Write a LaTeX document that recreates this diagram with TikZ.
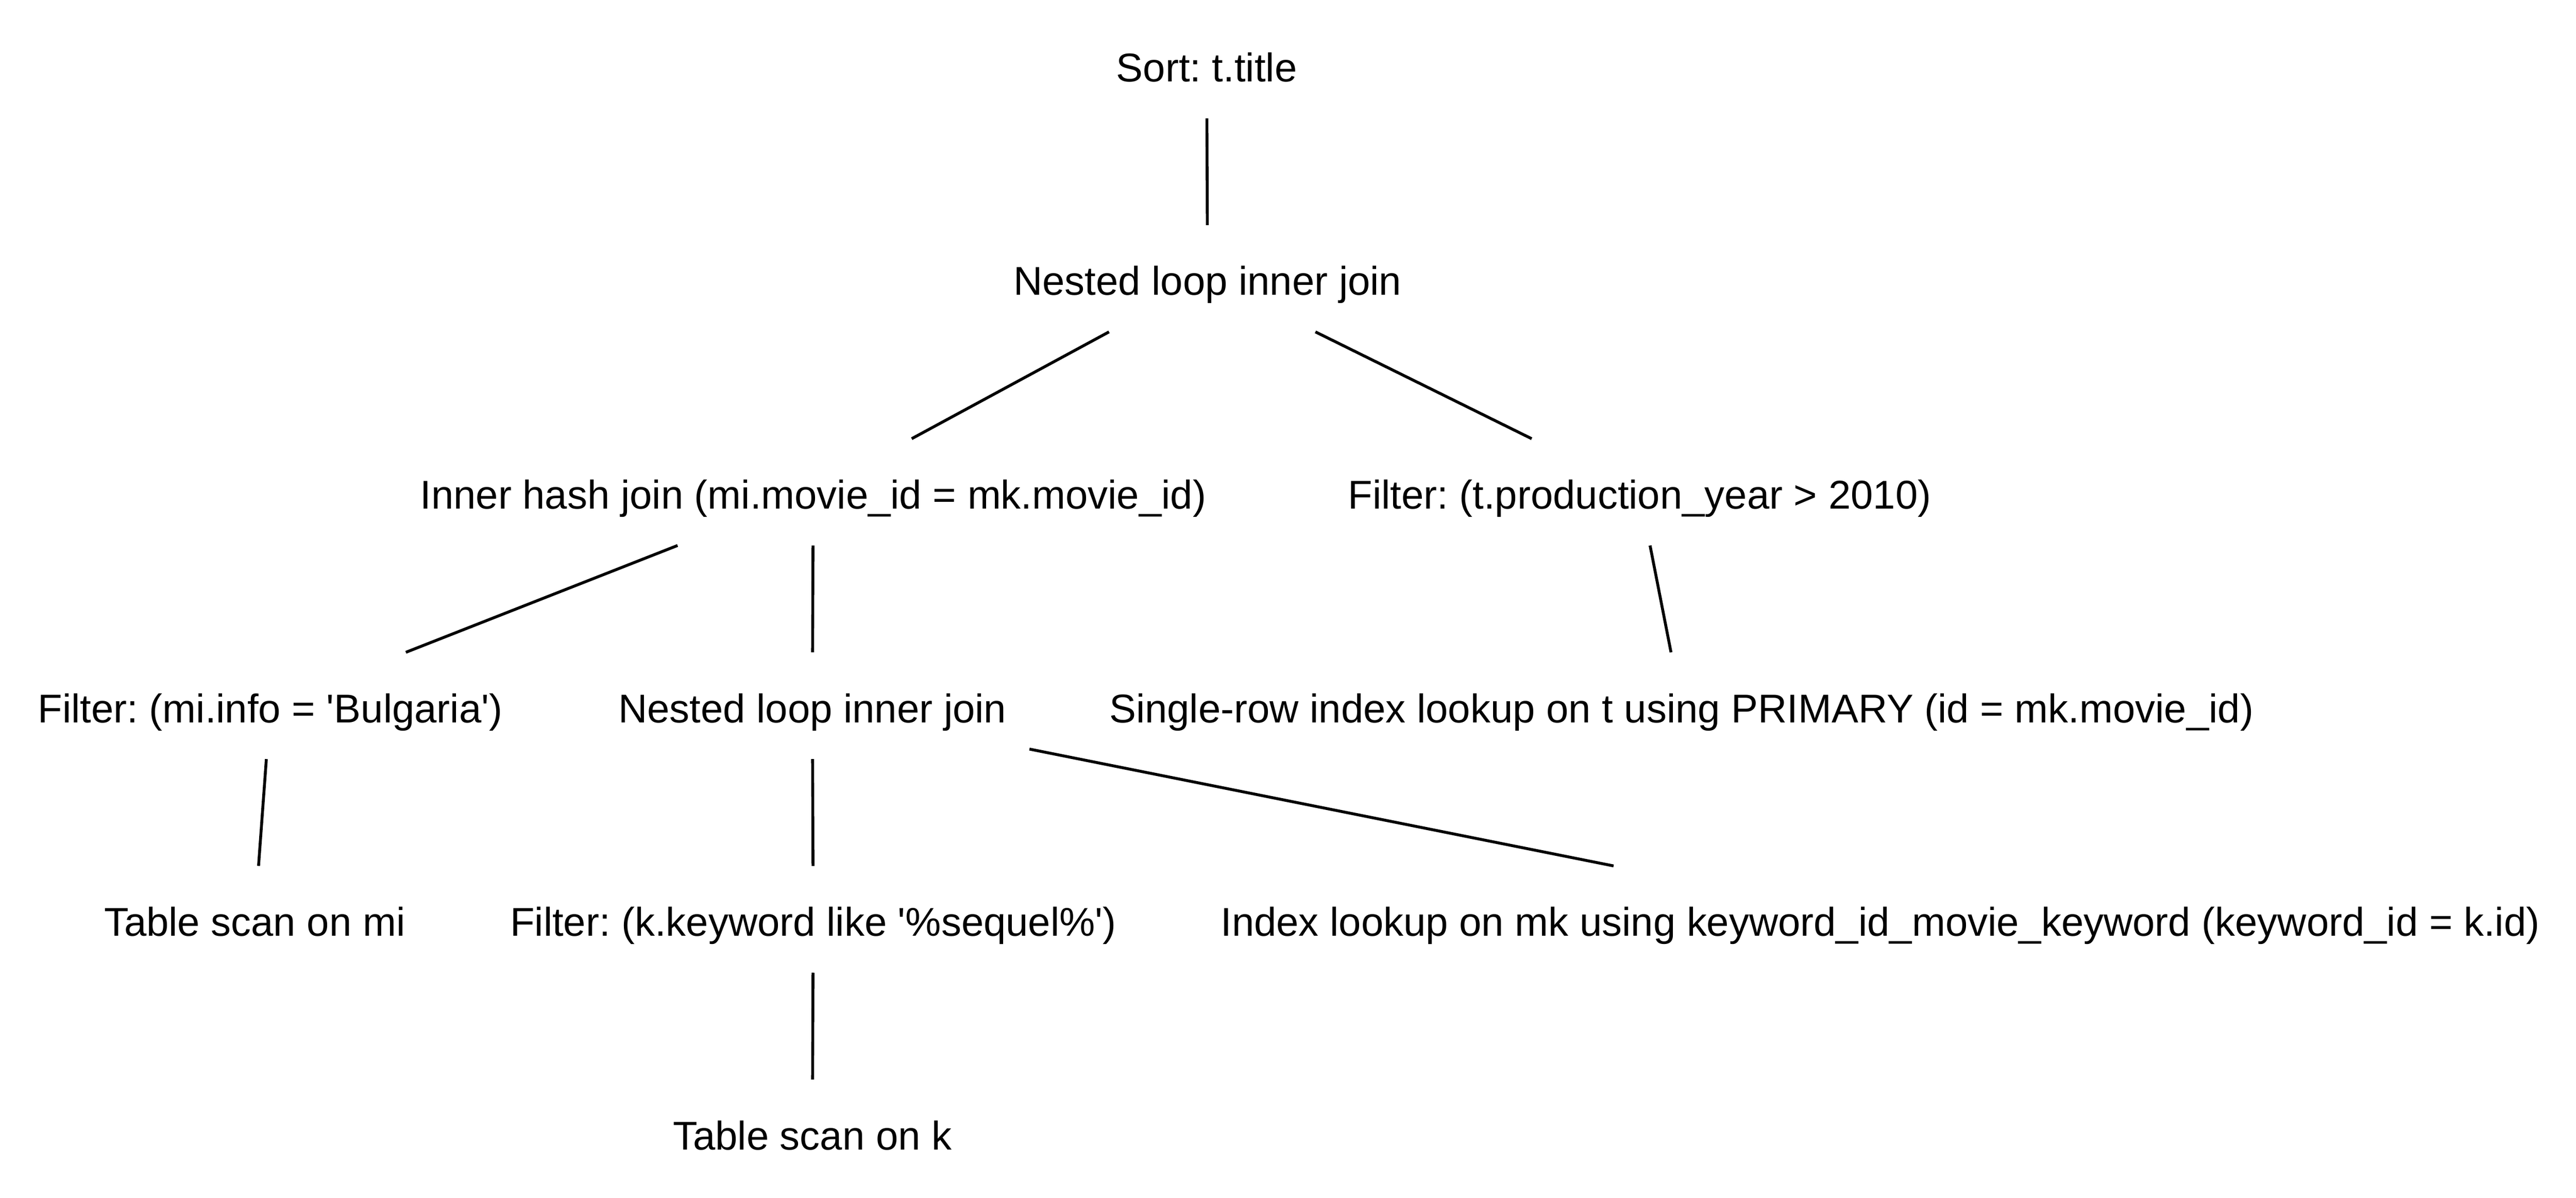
\documentclass[tikz,border=0pt]{standalone}
\usepackage{fontspec}
\setmainfont{Liberation Sans}
\usepackage{tikz}
\frenchspacing

\begin{document}
\begin{tikzpicture}[x=0.02cm, y=-0.02cm]
  \useasboundingbox (0,0) rectangle (1568,729);
  \begin{scope} [
    every node/.style={rectangle, inner xsep=0.28cm, inner ysep=0pt, outer sep=0pt,
      minimum height=1.3cm, text height=1.2em, text depth=0.04em,
      font=\fontsize{13.9}{16}\selectfont},
    plan edge/.style={draw, line width=1pt}]
    \node (sort) at (734.5,39.5) {Sort: t.title};
    \node (nlj) at (735,169.5) {Nested loop inner join};
    \node (ihj) at (495,299.5) {Inner hash join (mi.movie\_id = mk.movie\_id)};
    \node (filt) at (998,299.5) {Filter: (t.production\_year > 2010)};
    \node (filmi) at (164.5,429.5) {Filter: (mi.info = \textquotesingle Bulgaria\textquotesingle)};
    \node (nljk) at (494.5,429.5) {Nested loop inner join};
    \node (lookt) at (1023.5,429.5) {Single-row index lookup on t using PRIMARY (id = mk.movie\_id)};
    \node (scanmi) at (155,559.5) {Table scan on mi};
    \node (filk) at (495,559.5) {Filter: (k.keyword like \textquotesingle\%sequel\%\textquotesingle)};
    \node (lookmk) at (1144.5,559.5) {Index lookup on mk using keyword\_id\_movie\_keyword (keyword\_id = k.id)};
    \node (scank) at (494.5,689.5) {Table scan on k};
    \foreach \a/\b in {sort/nlj, nlj/ihj, nlj/filt, ihj/filmi, ihj/nljk, filt/lookt,
      filmi/scanmi, nljk/filk, nljk/lookmk, filk/scank}
      \draw [plan edge] (\a) -- (\b);
  \end{scope}
\end{tikzpicture}
\end{document}
